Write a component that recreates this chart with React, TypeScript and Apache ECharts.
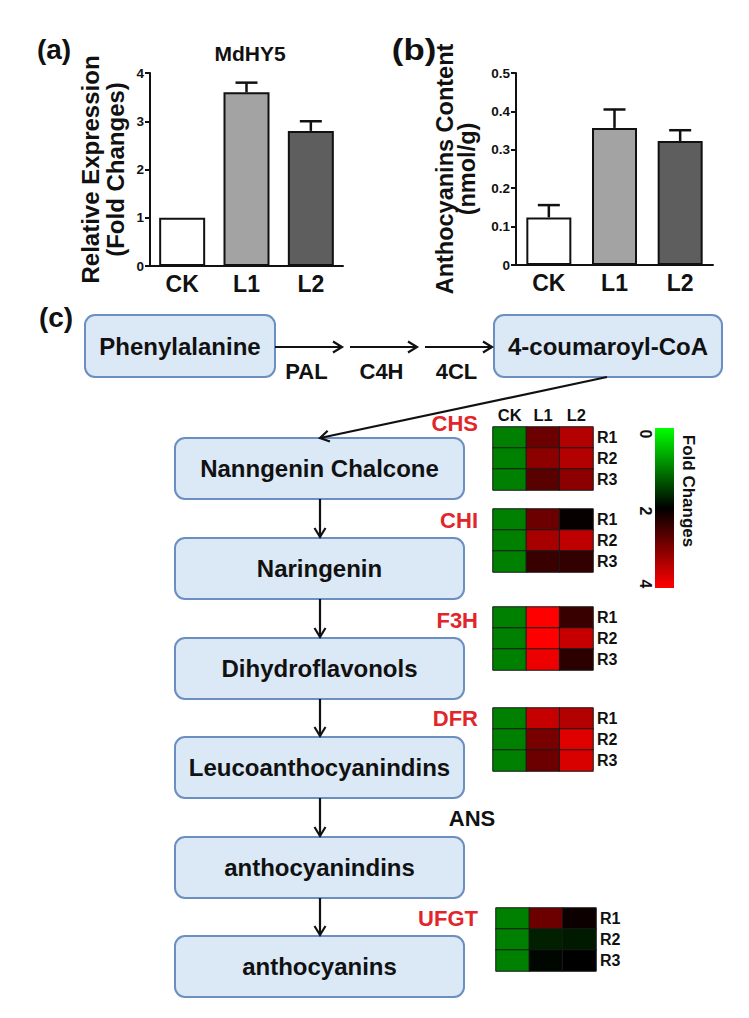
import React, { useEffect, useRef } from "react";
import * as echarts from "echarts";

const groups = ["CK", "L1", "L2"];
const mdhy5Mean = [1.0, 3.6, 2.8];
const mdhy5Err = [0, 0.2, 0.2];
const anthoMean = [0.124, 0.357, 0.323];
const anthoErr = [0.032, 0.048, 0.028];
const barColors = ["#ffffff", "#a3a3a3", "#5e5e5e"];

const reps = ["R1", "R2", "R3"];
const genes = ["CHS", "CHI", "F3H", "DFR", "UFGT"];
// rows R1..R3, columns CK, L1, L2 (fold changes)
const chsVals = [[1, 2.85, 3.4], [1, 3.1, 3.4], [1, 2.7, 3.1]];
const chiVals = [[1, 2.85, 2.05], [1, 3.3, 3.5], [1, 2.45, 2.4]];
const f3hVals = [[1, 4.0, 2.45], [1, 4.0, 3.55], [1, 3.85, 2.35]];
const dfrVals = [[1, 3.55, 3.4], [1, 2.95, 3.75], [1, 2.85, 3.7]];
const ufgtVals = [[1, 2.85, 2.1], [1, 1.75, 1.8], [1, 1.95, 2.0]];
const geneVals = [chsVals, chiVals, f3hVals, dfrVals, ufgtVals];

const pathwaySteps = [
  "Nanngenin Chalcone",
  "Naringenin",
  "Dihydroflavonols",
  "Leucoanthocyanindins",
  "anthocyanindins",
  "anthocyanins",
];
const stepEnzymes = ["CHS", "CHI", "F3H", "DFR", "ANS", "UFGT"];
const topEnzymes = ["PAL", "C4H", "4CL"];
const colorbarTicks = ["0", "2", "4"];

const FONT = '"Liberation Sans", Arial, sans-serif';

function txt(text: string, x: number, y: number, size: number, opts: any = {}) {
  const align = opts.align || "center";
  return {
    type: "text",
    x,
    y,
    rotation: opts.rotation || 0,
    scaleX: opts.scaleX || 1,
    z: 10,
    style: {
      text,
      fill: opts.fill || "#111",
      font: `bold ${size}px ${FONT}`,
      align,
      textAlign: align,
      verticalAlign: "middle",
      textVerticalAlign: "middle",
    },
  };
}

function arrow(x1: number, y1: number, x2: number, y2: number) {
  const dx = x2 - x1;
  const dy = y2 - y1;
  const len = Math.sqrt(dx * dx + dy * dy);
  const ux = dx / len;
  const uy = dy / len;
  const nx = -uy;
  const ny = ux;
  const L = 9;
  const W = 5.5;
  return [
    {
      type: "line",
      z: 5,
      shape: { x1, y1, x2, y2 },
      style: { stroke: "#111", lineWidth: 2.2 },
    },
    {
      type: "polyline",
      z: 5,
      shape: {
        points: [
          [x2 - ux * L + nx * W, y2 - uy * L + ny * W],
          [x2, y2],
          [x2 - ux * L - nx * W, y2 - uy * L - ny * W],
        ],
      },
      style: { stroke: "#111", lineWidth: 2.2, fill: null },
    },
  ];
}

function box(x: number, y: number, w: number, h: number, label: string) {
  return [
    {
      type: "rect",
      z: 3,
      shape: { x, y, width: w, height: h, r: 10 },
      style: { fill: "#dbe8f6", stroke: "#6b8fc0", lineWidth: 2 },
    },
    txt(label, x + w / 2, y + h / 2, 24),
  ];
}

export default function App() {
  const ref = useRef<HTMLDivElement>(null);

  useEffect(() => {
    if (!ref.current) return;
    const chart = echarts.init(ref.current, null, { renderer: "svg" });

    const barAxisLabel = { color: "#111", fontWeight: "bold", fontSize: 23, fontFamily: FONT, margin: 6 };
    const yLabel = { color: "#111", fontWeight: "bold", fontSize: 13.5, fontFamily: FONT, margin: 6 };
    const axLine = { show: true, lineStyle: { color: "#111", width: 2 } };

    const hmTops = [427, 509, 607, 708, 908];
    const hmLefts = [493, 493, 493, 493, 496];

    const grids: any[] = [
      { left: 150, top: 73, width: 193, height: 193 },
      { left: 516, top: 73, width: 197, height: 192 },
    ];
    hmTops.forEach((t, i) => grids.push({ left: hmLefts[i], top: t, width: 100, height: 63 }));

    const xAxes: any[] = [
      { type: "category", gridIndex: 0, data: groups, axisLine: axLine, axisTick: { show: false }, axisLabel: barAxisLabel },
      { type: "category", gridIndex: 1, data: groups, axisLine: axLine, axisTick: { show: false }, axisLabel: barAxisLabel },
    ];
    const yAxes: any[] = [
      {
        type: "value", gridIndex: 0, min: 0, max: 4, interval: 1,
        axisLine: axLine, axisTick: { show: true, length: 5, lineStyle: { color: "#111", width: 2 } },
        splitLine: { show: false }, axisLabel: yLabel,
        name: "Relative Expression\n(Fold Changes)", nameLocation: "middle", nameRotate: 90, nameGap: 22,
        nameTextStyle: { color: "#111", fontWeight: "bold", fontSize: 24, fontFamily: FONT, lineHeight: 25 },
      },
      {
        type: "value", gridIndex: 1, min: 0, max: 0.5, interval: 0.1,
        axisLine: axLine, axisTick: { show: true, length: 5, lineStyle: { color: "#111", width: 2 } },
        splitLine: { show: false }, axisLabel: yLabel,
        name: "Anthocyanins Content\n(nmol/g)", nameLocation: "middle", nameRotate: 90, nameGap: 38,
        nameTextStyle: { color: "#111", fontWeight: "bold", fontSize: 23.5, fontFamily: FONT, lineHeight: 22 },
      },
    ];

    hmTops.forEach((_, i) => {
      xAxes.push({
        type: "category", gridIndex: i + 2, data: groups, position: "top",
        axisLine: { show: false }, axisTick: { show: false }, splitLine: { show: false },
        axisLabel: { show: i === 0, color: "#111", fontWeight: "bold", fontSize: 16.5, fontFamily: FONT, margin: 4 },
      });
      yAxes.push({
        type: "category", gridIndex: i + 2, data: reps, inverse: true, position: "right",
        axisLine: { show: false }, axisTick: { show: false }, splitLine: { show: false },
        axisLabel: { color: "#111", fontWeight: "bold", fontSize: 16, fontFamily: FONT, margin: 4 },
      });
    });

    const errRender = (params: any, api: any) => {
      const xi = api.value(0);
      const m = api.value(1);
      const e = api.value(2);
      if (!e) return { type: "group", children: [] };
      const p0 = api.coord([xi, m]);
      const p1 = api.coord([xi, m + e]);
      const hw = 11;
      return {
        type: "group",
        children: [
          { type: "line", shape: { x1: p0[0], y1: p0[1], x2: p1[0], y2: p1[1] }, style: { stroke: "#111", lineWidth: 2.5 } },
          { type: "line", shape: { x1: p1[0] - hw, y1: p1[1], x2: p1[0] + hw, y2: p1[1] }, style: { stroke: "#111", lineWidth: 2.5 } },
        ],
      };
    };

    const series: any[] = [
      {
        type: "bar", xAxisIndex: 0, yAxisIndex: 0, barWidth: 46,
        data: mdhy5Mean.map((v, i) => ({ value: v, itemStyle: { color: barColors[i] } })),
        itemStyle: { borderColor: "#111", borderWidth: 2 },
      },
      {
        type: "custom", xAxisIndex: 0, yAxisIndex: 0, z: 5,
        data: mdhy5Mean.map((v, i) => [i, v, mdhy5Err[i]]),
        encode: { x: 0, y: 1 }, renderItem: errRender,
      },
      {
        type: "bar", xAxisIndex: 1, yAxisIndex: 1, barWidth: 45,
        data: anthoMean.map((v, i) => ({ value: v, itemStyle: { color: barColors[i] } })),
        itemStyle: { borderColor: "#111", borderWidth: 2 },
      },
      {
        type: "custom", xAxisIndex: 1, yAxisIndex: 1, z: 5,
        data: anthoMean.map((v, i) => [i, v, anthoErr[i]]),
        encode: { x: 0, y: 1 }, renderItem: errRender,
      },
    ];

    geneVals.forEach((rows, gi) => {
      const data: any[] = [];
      rows.forEach((row, r) => row.forEach((v, c) => data.push([c, r, v])));
      series.push({
        type: "heatmap", name: genes[gi], xAxisIndex: gi + 2, yAxisIndex: gi + 2,
        data, itemStyle: { borderColor: "#1a1a1a", borderWidth: 1 },
      });
    });

    const graphic: any[] = [];
    graphic.push(txt("(a)", 54, 49, 28));
    graphic.push(txt("(b)", 414, 50, 29, { scaleX: 1.2 }));
    graphic.push(txt("(c)", 56, 317, 28));
    graphic.push(txt("MdHY5", 250, 53, 21));

    // top row
    graphic.push(...box(85, 315, 190, 62, "Phenylalanine"));
    graphic.push(...box(494, 315, 228, 62, "4-coumaroyl-CoA"));
    const topArrows = [[275, 342], [350, 417], [425, 492]];
    topArrows.forEach(([a, b], i) => {
      graphic.push(...arrow(a, 347, b, 347));
      graphic.push(txt(topEnzymes[i], (a + b) / 2 - 2, 371, 22));
    });
    graphic.push(...arrow(607, 377, 320, 438));

    const boxTops = [438, 538, 638, 737, 837, 936];
    const boxH = 61;
    boxTops.forEach((t, i) => {
      graphic.push(...box(175, t, 289, boxH, pathwaySteps[i]));
      if (i > 0) graphic.push(...arrow(320, boxTops[i - 1] + boxH, 320, t - 1));
    });

    const enzY = [423, 520, 620, 718, 818, 918];
    stepEnzymes.forEach((e, i) => {
      if (e === "ANS") graphic.push(txt(e, 472, enzY[i], 22));
      else graphic.push(txt(e, 478, enzY[i], 22, { align: "right", fill: "#e1262b" }));
    });

    // colorbar
    graphic.push({
      type: "rect",
      shape: { x: 655, y: 428, width: 19, height: 160 },
      style: {
        fill: {
          type: "linear", x: 0, y: 0, x2: 0, y2: 1,
          colorStops: [
            { offset: 0, color: "#00ff00" },
            { offset: 0.5, color: "#000000" },
            { offset: 1, color: "#ff0000" },
          ],
        },
      },
    });
    const cbY = [434, 511, 584];
    colorbarTicks.forEach((t, i) => graphic.push(txt(t, 645, cbY[i], 16, { rotation: -Math.PI / 2 })));
    graphic.push(txt("Fold Changes", 688, 491, 17, { rotation: -Math.PI / 2 }));

    chart.setOption({
      animation: false,
      backgroundColor: "#ffffff",
      textStyle: { fontFamily: FONT },
      grid: grids,
      xAxis: xAxes,
      yAxis: yAxes,
      visualMap: {
        type: "continuous", show: false, min: 0, max: 4,
        seriesIndex: [4, 5, 6, 7, 8],
        inRange: { color: ["#00ff00", "#000000", "#ff0000"] },
      },
      series,
      graphic,
    });

    return () => chart.dispose();
  }, []);

  return (
    <div
      ref={ref}
      style={{ position: "absolute", left: 0, top: 0, width: 749, height: 1018, background: "#fff" }}
    />
  );
}
